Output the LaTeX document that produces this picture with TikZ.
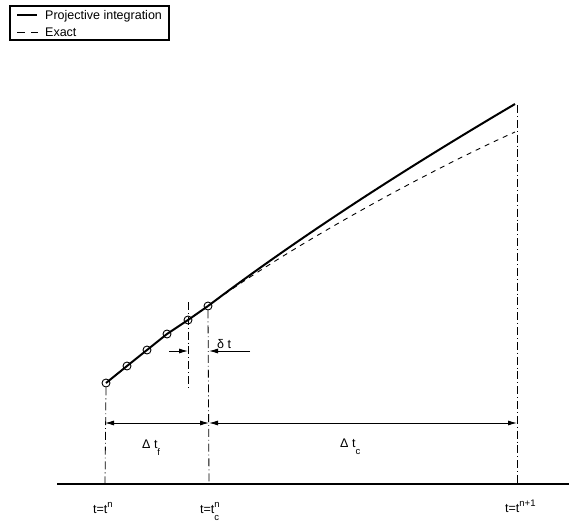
\documentclass[tikz,border=0pt]{standalone}
\usepackage{fontspec}
\setmainfont{Liberation Sans}
\usetikzlibrary{arrows.meta}

\newcommand{\supidx}[1]{\raisebox{6pt}{\fontsize{9.5}{10}\selectfont #1}}
\newcommand{\subidx}[1]{\raisebox{-7pt}{\fontsize{9.5}{10}\selectfont #1}}

\begin{document}
\begin{tikzpicture}[
    x=1pt,
    y=-1pt,
    >={Latex[length=9pt,width=5pt]},
    every node/.style={font=\fontsize{12.5}{14}\selectfont, inner sep=0pt},
    marker/.style={draw, circle, minimum size=8pt, line width=0.9pt},
    dashdot/.style={line width=0.8pt, dash pattern=on 8pt off 3pt on 0.8pt off 3pt},
    proj/.style={line width=2pt},
    exact/.style={line width=0.9pt, dash pattern=on 5pt off 5pt},
    span/.style={<->, line width=0.9pt}
]
\useasboundingbox (0,0) rectangle (569,523);

% Legend
\draw[line width=1.3pt] (10,6) rectangle (169,40);
\draw[proj] (17,15) -- (37,15);
\draw[line width=1pt, dash pattern=on 8pt off 6pt] (17,32) -- (38,32);
\node[anchor=base west] (lproj) at (45,19.5) {Projective integration};
\node[anchor=base west] (lexact) at (45,36) {Exact};

% Time axis
\draw[line width=1.2pt] (57,484) -- (569,484);

% Fine steps
\coordinate (m0) at (106,383);
\coordinate (m1) at (127,366);
\coordinate (m2) at (147,350);
\coordinate (m3) at (167,334);
\coordinate (m4) at (188,320);
\coordinate (m5) at (208,306);
\coordinate (end) at (515,104);
\coordinate (endx) at (515,132);

\draw[proj] (m0) -- (m1) -- (m2) -- (m3) -- (m4) -- (m5);

% Projective step and exact solution
\draw[proj] (m5) .. controls (310,229) and (420,160) .. (end);
\draw[exact] (m5) .. controls (290,246) and (430,170) .. (endx);

\foreach \i in {0,...,5}
    \node[marker] (c\i) at (m\i) {};

% Vertical markers
\coordinate (a0) at (105,484);
\coordinate (a1) at (209,484);
\coordinate (a2) at (517,484);
\coordinate (f0) at (188,302);
\coordinate (f1) at (188,388);
\coordinate (top) at (517,105);

\draw[dashdot] (c0.south) -- (a0);
\draw[dashdot] (f0) -- (f1);
\draw[dashdot] (c5.south) -- (a1);
\draw[dashdot] (top) -- (a2);

% Step widths
\coordinate (s0) at (105,423);
\coordinate (s1) at (209,423);
\coordinate (s2) at (517,423);
\draw[span] (s0) -- (s1);
\draw[span] (s1) -- (s2);

\coordinate (d0) at (169,351);
\coordinate (d1) at (188,351);
\coordinate (d2) at (250,351);
\coordinate (d3) at (209,351);
\draw[->, line width=0.9pt] (d0) -- (d1);
\draw[->, line width=0.9pt] (d2) -- (d3);

% Labels
\node[anchor=base west] (ldt) at (217,348) {δ t};
\node[anchor=base west] (ldtf) at (142,448) {Δ t\subidx{f}};
\node[anchor=base west] (ldtc) at (340,447) {Δ t\subidx{c}};
\node[anchor=base west] (ltn) at (93,513) {t=t\supidx{n}};
\node[anchor=base west] (ltc) at (200,513) {t=t\rlap{\supidx{n}}\subidx{c}};
\node[anchor=base west] (ltn1) at (505,512) {t=t\supidx{n+1}};

\end{tikzpicture}
\end{document}
